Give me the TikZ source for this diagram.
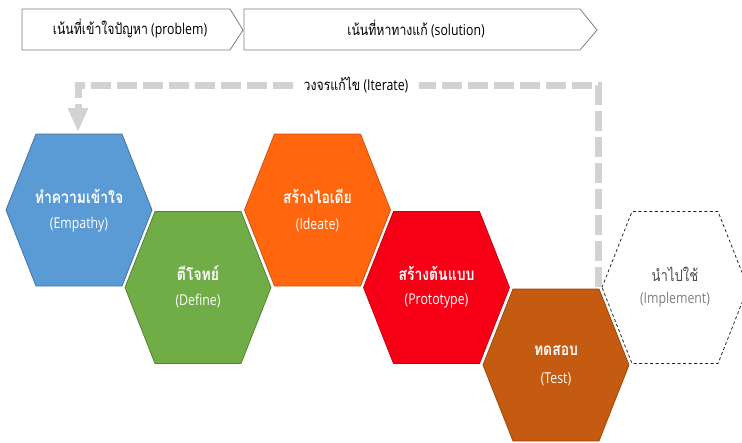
\documentclass[tikz,border=0pt]{standalone}
\usepackage{fontspec}
\setmainfont{Open Sans}
\newfontfamily\thaifont[Script=Thai]{Loma}
\usetikzlibrary{arrows.meta}
\definecolor{cblue}{HTML}{5B9BD5}
\definecolor{cgreen}{HTML}{70AD47}
\definecolor{corange}{HTML}{FF660E}
\definecolor{cred}{HTML}{F70016}
\definecolor{cbrown}{HTML}{C55A11}
\definecolor{iterc}{HTML}{D2D2D2}
\definecolor{hdrline}{HTML}{7F7F7F}
\newcommand{\narrowtxt}[1]{\scalebox{0.82}[1]{#1}}
\tikzset{
  hexa/.pic={\path[pic actions] (-73,0) -- (-43,-76) -- (43,-76) -- (73,0) -- (43,76) -- (-43,76) -- cycle;},
  hexfill/.style={line width=0.8pt, line join=miter},
  hextitle/.style={font=\thaifont\bfseries\fontsize{17}{19}\selectfont, text=white, inner sep=0pt},
  hexsub/.style={font=\fontsize{15}{17}\selectfont, text=white, inner sep=0pt},
  hdrbox/.style={draw=hdrline, line width=0.8pt, fill=white},
  hdrtext/.style={font=\fontsize{15}{17}\selectfont, text=black, inner sep=0pt},
  iterline/.style={draw=iterc, line width=7pt, dash pattern=on 20pt off 6pt},
  itertext/.style={font=\fontsize{15}{17}\selectfont, text=black, inner xsep=10pt, inner ysep=2pt},
}
\begin{document}
\begin{tikzpicture}[x=1pt, y=-1pt]
\useasboundingbox (0,0) rectangle (742,442);
% header boxes
\path[hdrbox] (22,9) -- (230,9) -- (243,30) -- (230,50) -- (22,50) -- cycle;
\path[hdrbox] (244,9) -- (580,9) -- (597,30) -- (580,50) -- (244,50) -- cycle;
\node[hdrtext] (hprob) at (130,29) {\narrowtxt{{\thaifont เน้นที่เข้าใจปัญหา} (problem)}};
\node[hdrtext] (hsol) at (416,29) {\narrowtxt{{\thaifont เน้นที่หาทางแก้} (solution)}};
% hexagons
\pic[hexfill, fill=cblue, draw=cblue!75!black] at (79,210) {hexa};
\pic[hexfill, fill=cgreen, draw=cgreen!75!black] at (198,287.5) {hexa};
\pic[hexfill, fill=corange, draw=corange!80!black] at (317.5,210) {hexa};
\pic[hexfill, fill=cred, draw=cred!80!black] at (436.5,287.5) {hexa};
\pic[hexfill, fill=cbrown, draw=cbrown!80!black] at (556,365) {hexa};
\pic[draw=black!85, line width=0.8pt, dash pattern=on 3pt off 2.5pt] at (675,287.5) {hexa};
% labels
\node[hextitle] (empT) at (79,196) {\narrowtxt{ทำความเข้าใจ}};
\node[hexsub] (empE) at (79,225) {\narrowtxt{(Empathy)}};
\node[hextitle] (defT) at (198,273) {\narrowtxt{ตีโจทย์}};
\node[hexsub] (defE) at (198,301) {\narrowtxt{(Define)}};
\node[hextitle] (ideT) at (317.5,196) {\narrowtxt{สร้างไอเดีย}};
\node[hexsub] (ideE) at (317.5,225) {\narrowtxt{(Ideate)}};
\node[hextitle] (proT) at (436.5,273) {\narrowtxt{สร้างต้นแบบ}};
\node[hexsub] (proE) at (436.5,301) {\narrowtxt{(Prototype)}};
\node[hextitle] (tesT) at (556,351) {\narrowtxt{ทดสอบ}};
\node[hexsub] (tesE) at (556,379) {\narrowtxt{(Test)}};
\node[hextitle, text=black!70, font=\thaifont\fontsize{16}{18}\selectfont] (impT) at (675,274) {\narrowtxt{นำไปใช้}};
\node[hexsub, text=black!50] (impE) at (675,300) {\narrowtxt{(Implement)}};
% iterate loop
\node[itertext] (iter) at (356,85) {\narrowtxt{{\thaifont วงจรแก้ไข} (Iterate)}};
\coordinate (iterStart) at (598,287);
\coordinate (iterEnd) at (78,132);
\draw[iterline] (iterStart) |- (iter.east);
\draw[iterline, -{Triangle[width=19pt, length=24pt]}] (iter.west) -| (iterEnd);
\end{tikzpicture}
\end{document}
